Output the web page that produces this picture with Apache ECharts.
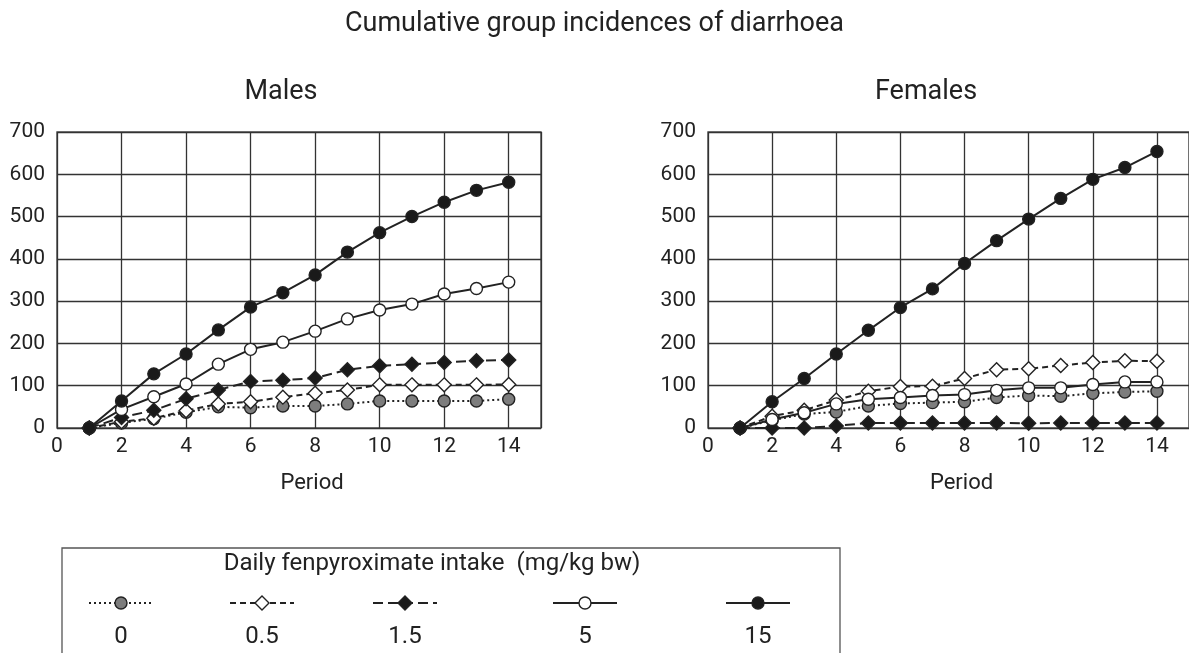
<!DOCTYPE html>
<html>
<head>
<meta charset="utf-8">
<script src="https://cdn.jsdelivr.net/npm/echarts@6/dist/echarts.min.js"></script>
<style>
html, body { margin: 0; padding: 0; background: #fff; }
#chart { width: 1189px; height: 653px; }
</style>
</head>
<body>
<div id="chart"></div>
<script>
// 期间
var periods = [1, 2, 3, 4, 5, 6, 7, 8, 9, 10, 11, 12, 13, 14]
// 剂量 (mg/kg bw)
var doses = ['0', '0.5', '1.5', '5', '15']
var yTicks = [0, 100, 200, 300, 400, 500, 600, 700]
var xTicks = [0, 2, 4, 6, 8, 10, 12, 14]

// Males
var males0 = [0, 12, 22, 37, 50, 48, 52, 52, 57, 64, 64, 64, 64, 68]
var males05 = [0, 15, 23, 41, 57, 62, 73, 82, 90, 102, 102, 102, 102, 103]
var males15 = [0, 25, 42, 69, 90, 110, 113, 118, 138, 147, 151, 155, 159, 161]
var males5 = [0, 44, 74, 104, 151, 186, 203, 229, 258, 279, 293, 317, 330, 345]
var males150 = [0, 64, 128, 175, 232, 286, 320, 362, 416, 462, 500, 534, 562, 581]

// Females
var females0 = [0, 18, 33, 38, 52, 58, 60, 62, 72, 77, 75, 82, 85, 87]
var females05 = [0, 28, 42, 66, 87, 98, 99, 117, 138, 140, 148, 155, 159, 158]
var females15 = [0, 0, 0, 5, 12, 12, 12, 12, 12, 11, 12, 12, 12, 12]
var females5 = [0, 20, 36, 57, 68, 72, 77, 79, 89, 95, 95, 103, 109, 109]
var females150 = [0, 62, 117, 175, 231, 285, 329, 389, 443, 494, 543, 588, 616, 654]

var FONT = 'Roboto'
var INK = '#222'

// 每个剂量的样式
var styles = [
  {symbol: 'circle', size: 12, fill: '#7d7d7d', dash: [2, 3]},
  {symbol: 'diamond', size: 14, fill: '#fff', dash: [6, 4]},
  {symbol: 'diamond', size: 14, fill: '#1a1a1a', dash: [10, 5]},
  {symbol: 'circle', size: 12, fill: '#fff', dash: null},
  {symbol: 'circle', size: 12, fill: '#1a1a1a', dash: null}
]

function pairs (vals) {
  return periods.map(function (p, i) { return [p, vals[i]] })
}

function makeSeries (idx, sets) {
  return sets.map(function (vals, k) {
    var st = styles[k]
    return {
      name: doses[k],
      type: 'line',
      xAxisIndex: idx,
      yAxisIndex: idx,
      data: pairs(vals),
      symbol: st.symbol,
      symbolSize: st.size,
      showAllSymbol: true,
      animation: false,
      z: 2 + k,
      lineStyle: {color: INK, width: 2, type: st.dash ? st.dash : 'solid'},
      itemStyle: {color: st.fill, borderColor: INK, borderWidth: 1.4}
    }
  })
}

function xAxisOpt (idx) {
  return {
    type: 'value',
    gridIndex: idx,
    min: 0,
    max: 15,
    interval: 2,
    name: 'Period',
    nameLocation: 'middle',
    nameGap: 44,
    nameTextStyle: {fontFamily: FONT, fontSize: 22, color: INK, padding: [0, 0, 0, 26]},
    axisLine: {show: false},
    axisTick: {show: false},
    axisLabel: {
      fontFamily: FONT, fontSize: 21, color: INK, margin: 8,
      showMaxLabel: false,
      formatter: function (v) { return xTicks.indexOf(v) >= 0 ? String(v) : '' }
    },
    splitLine: {show: true, lineStyle: {color: '#333', width: 1.3}}
  }
}

function yAxisOpt (idx) {
  return {
    type: 'value',
    gridIndex: idx,
    min: yTicks[0],
    max: yTicks[yTicks.length - 1],
    interval: 100,
    axisLine: {show: false},
    axisTick: {show: false},
    axisLabel: {fontFamily: FONT, fontSize: 21, color: INK, margin: 12},
    splitLine: {show: true, lineStyle: {color: '#333', width: 1.3}}
  }
}

// 图例 (画在下方的框里)
var legendX = [121, 262, 405, 585, 758]
var legendEls = [
  {type: 'rect', shape: {x: 62, y: 548, width: 778, height: 120}, style: {fill: 'none', stroke: '#555', lineWidth: 1.3}},
  {type: 'text', x: 432, y: 564, style: {text: 'Daily fenpyroximate intake  (mg/kg bw)', font: '24px Roboto', fill: INK, align: 'center', verticalAlign: 'middle'}}
]
doses.forEach(function (d, k) {
  var st = styles[k]
  var cx = legendX[k]
  var cy = 603
  legendEls.push({type: 'line', shape: {x1: cx - 32, y1: cy, x2: cx + 32, y2: cy}, style: {stroke: INK, lineWidth: 2, lineDash: st.dash}})
  if (st.symbol === 'circle') {
    legendEls.push({type: 'circle', shape: {cx: cx, cy: cy, r: 6}, style: {fill: st.fill, stroke: INK, lineWidth: 1.4}})
  } else {
    legendEls.push({type: 'polygon', shape: {points: [[cx, cy - 7], [cx + 7, cy], [cx, cy + 7], [cx - 7, cy]]}, style: {fill: st.fill, stroke: INK, lineWidth: 1.4}})
  }
  legendEls.push({type: 'text', x: cx, y: 637, style: {text: d, font: '24px Roboto', fill: INK, align: 'center', verticalAlign: 'middle'}})
})

let myChart = echarts.init(document.getElementById('chart'), null, {renderer: 'canvas'})
myChart.setOption({
  backgroundColor: '#fff',
  textStyle: {fontFamily: FONT},
  title: [
    {text: 'Cumulative group incidences of diarrhoea', left: 'center', top: 6, textStyle: {fontFamily: FONT, fontSize: 27, fontWeight: 'normal', color: INK}},
    {text: 'Males', left: 276, top: 74, textAlign: 'center', textStyle: {fontFamily: FONT, fontSize: 27, fontWeight: 'normal', color: INK}},
    {text: 'Females', left: 921, top: 74, textAlign: 'center', textStyle: {fontFamily: FONT, fontSize: 27, fontWeight: 'normal', color: INK}}
  ],
  grid: [
    {left: 57, top: 132, width: 484, height: 296, show: true, borderColor: '#555', borderWidth: 1.5, backgroundColor: 'transparent'},
    {left: 708, top: 132, width: 482, height: 296, show: true, borderColor: '#555', borderWidth: 1.5, backgroundColor: 'transparent'}
  ],
  xAxis: [xAxisOpt(0), xAxisOpt(1)],
  yAxis: [yAxisOpt(0), yAxisOpt(1)],
  series: makeSeries(0, [males0, males05, males15, males5, males150])
    .concat(makeSeries(1, [females0, females05, females15, females5, females150])),
  graphic: legendEls
})
</script>
</body>
</html>
